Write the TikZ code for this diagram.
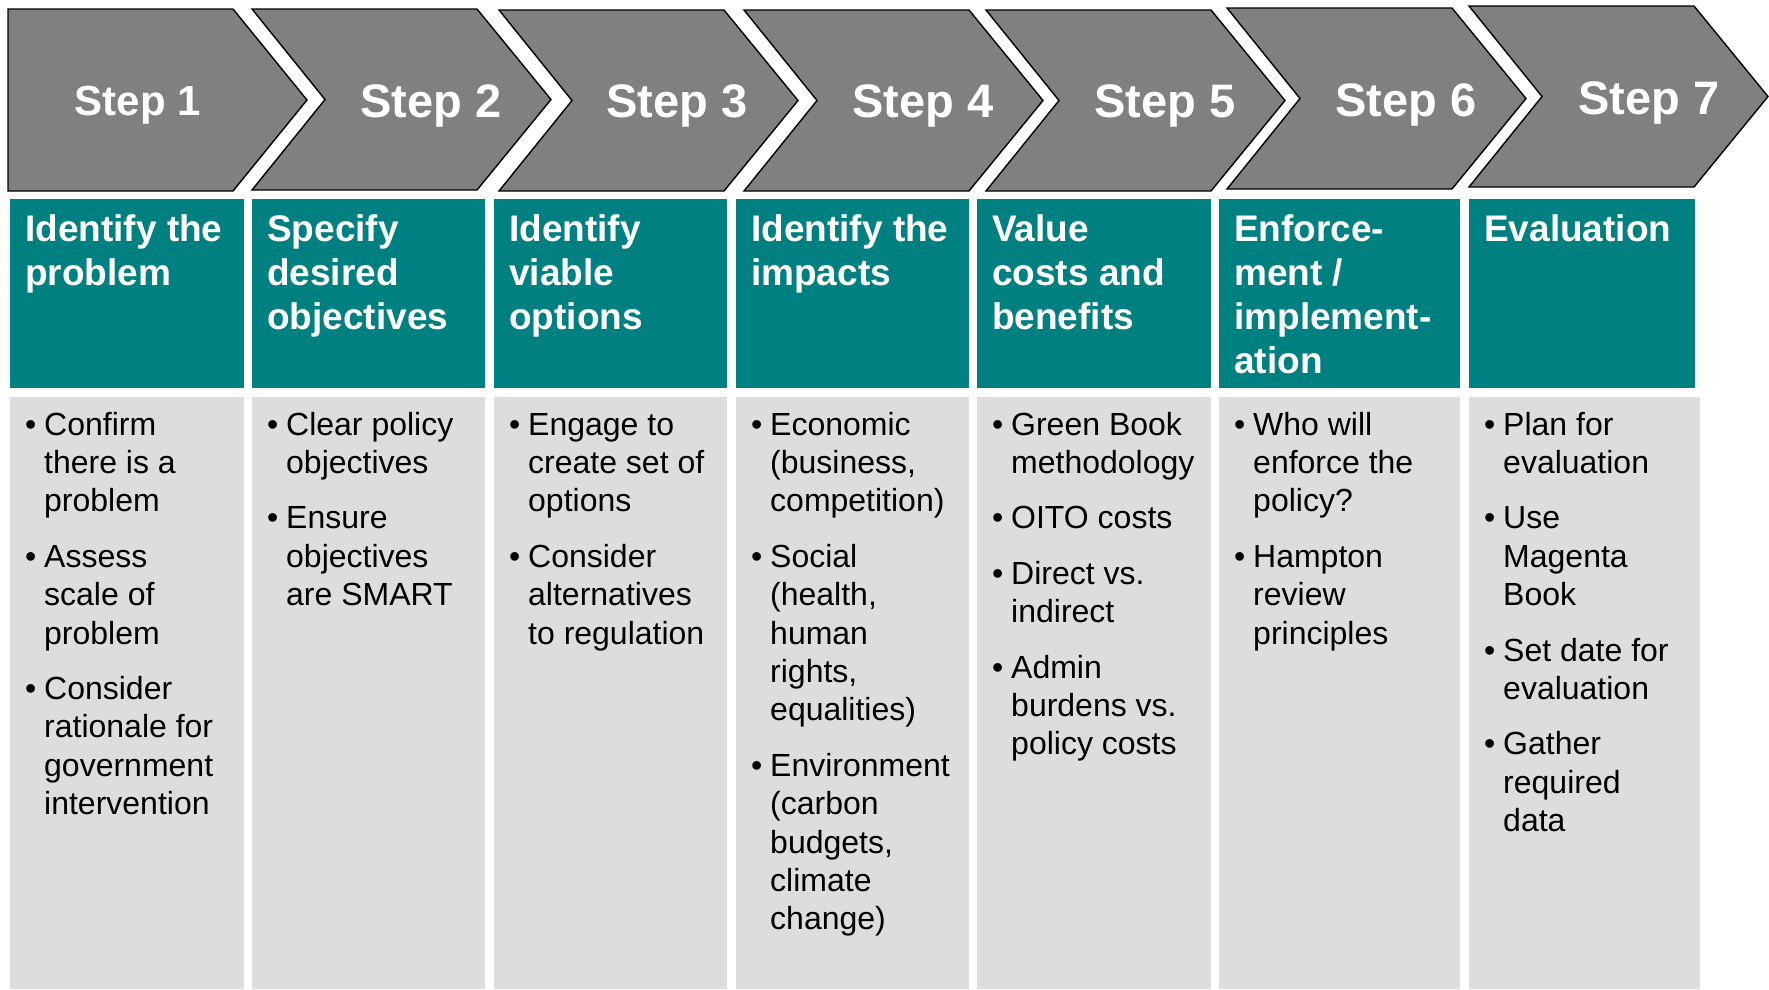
\documentclass[tikz,border=0pt]{standalone}
\usepackage{fontspec}
\setmainfont{Liberation Sans}
\definecolor{chevgray}{HTML}{808080}
\definecolor{tealc}{HTML}{008080}
\definecolor{lightg}{HTML}{DDDDDD}
\newcommand{\mychev}[3]{%
  \draw[chev] (#1,#2) -- ({#1+225},#2) -- ({#1+299},{(#2+#3)/2}) -- ({#1+225},#3) -- (#1,#3) -- ({#1+73},{(#2+#3)/2}) -- cycle;}
\tikzset{
  chev/.style={fill=chevgray, draw=black, line width=1.4pt, line join=miter},
  tealbox/.style={fill=tealc},
  greybox/.style={fill=lightg},
  steplab/.style={anchor=base, inner sep=0pt, text=white, font=\fontsize{47}{50}\selectfont\bfseries},
  headtxt/.style={anchor=base west, inner sep=0pt, text=white, font=\fontsize{37}{44}\selectfont\bfseries},
  bodytxt/.style={anchor=base west, inner sep=0pt, text=black, font=\fontsize{32}{38.4}\selectfont},
}
\newcommand{\hd}[1]{\begin{tabular}[t]{@{}l@{}}#1\end{tabular}}
\newcommand{\bd}[1]{\begin{tabular}[t]{@{}p{19pt}@{}l@{}}#1\end{tabular}}
\begin{document}
\begin{tikzpicture}[x=1pt,y=-1pt]
\useasboundingbox (0,0) rectangle (1769,989);
% chevrons
\draw[chev] (8,9) -- (233,9) -- (307,100) -- (233,191) -- (8,191) -- cycle;
\mychev{252}{9}{190}
\mychev{499}{10}{191}
\mychev{744}{10}{191}
\mychev{986}{10}{191}
\mychev{1227}{8}{189}
\mychev{1469}{6}{187}
% step labels
\node[steplab, font=\fontsize{42}{46}\selectfont\bfseries] (s1) at (138,115) {Step 1};
\node[steplab] (s2) at (431,117) {Step 2};
\node[steplab] (s3) at (677,117) {Step 3};
\node[steplab] (s4) at (923,117) {Step 4};
\node[steplab] (s5) at (1165,117) {Step 5};
\node[steplab] (s6) at (1406,116) {Step 6};
\node[steplab] (s7) at (1649,114) {Step 7};
% teal and grey boxes
\foreach \l/\r in {10/244, 252/485, 494/727, 736/969, 977/1211, 1219/1460, 1469/1695}{
  \fill[tealbox] (\l,199) rectangle (\r,388);
}
\foreach \l/\r in {10/244, 252/485, 494/727, 736/969, 977/1211, 1219/1460, 1469/1700}{
  \fill[greybox] (\l,397) rectangle (\r,989);
}
% headings
\node[headtxt] (h1) at (25,241) {\hd{Identify the\\problem}};
\node[headtxt] (h2) at (267,241) {\hd{Specify\\desired\\objectives}};
\node[headtxt] (h3) at (509,241) {\hd{Identify\\viable\\options}};
\node[headtxt] (h4) at (751,241) {\hd{Identify the\\impacts}};
\node[headtxt] (h5) at (992,241) {\hd{Value\\costs and\\benefits}};
\node[headtxt] (h6) at (1234,241) {\hd{Enforce-\\ment /\\implement-\\ation}};
\node[headtxt] (h7) at (1484,241) {\hd{Evaluation}};
% bodies
\node[bodytxt] (b1) at (25,435) {\bd{•&Confirm\\&there is a\\&problem\\[17pt]•&Assess\\&scale of\\&problem\\[17pt]•&Consider\\&rationale for\\&government\\&intervention}};
\node[bodytxt] (b2) at (267,435) {\bd{•&Clear policy\\&objectives\\[17pt]•&Ensure\\&objectives\\&are SMART}};
\node[bodytxt] (b3) at (509,435) {\bd{•&Engage to\\&create set of\\&options\\[17pt]•&Consider\\&alternatives\\&to regulation}};
\node[bodytxt] (b4) at (751,435) {\bd{•&Economic\\&(business,\\&competition)\\[17pt]•&Social\\&(health,\\&human\\&rights,\\&equalities)\\[17pt]•&Environment\\&(carbon\\&budgets,\\&climate\\&change)}};
\node[bodytxt] (b5) at (992,435) {\bd{•&Green Book\\&methodology\\[17pt]•&OITO costs\\[17pt]•&Direct vs.\\&indirect\\[17pt]•&Admin\\&burdens vs.\\&policy costs}};
\node[bodytxt] (b6) at (1234,435) {\bd{•&Who will\\&enforce the\\&policy?\\[17pt]•&Hampton\\&review\\&principles}};
\node[bodytxt] (b7) at (1484,435) {\bd{•&Plan for\\&evaluation\\[17pt]•&Use\\&Magenta\\&Book\\[17pt]•&Set date for\\&evaluation\\[17pt]•&Gather\\&required\\&data}};
\end{tikzpicture}
\end{document}
